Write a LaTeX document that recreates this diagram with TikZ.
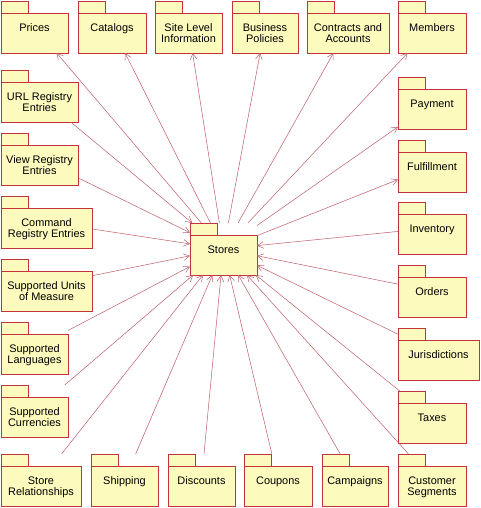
\documentclass[tikz,border=0pt]{standalone}
\usepackage{fontspec}
\setmainfont{Liberation Sans}
\usetikzlibrary{arrows.meta}
\definecolor{pkgfill}{RGB}{253,250,190}
\definecolor{pkgline}{RGB}{196,50,60}
\definecolor{connline}{RGB}{192,100,110}
\tikzset{
  pkgshape/.style={draw=pkgline, fill=pkgfill, line width=0.75pt},
  pkgnode/.style={anchor=north west, inner sep=0pt, outer sep=0pt, draw=none, rectangle,
    font=\fontsize{8.2pt}{8.8pt}\selectfont},
  conn/.style={draw=connline, line width=0.4pt, -{Straight Barb[length=4.5pt,width=5pt]}}
}
% #1 name, #2 x, #3 y (top of tab), #4 width, #5 text
\newcommand\pkgbox[5]{%
  \path[pkgshape] (#2,#3) rectangle ++(27,12);
  \path[pkgshape] (#2,#3+12) rectangle ++(#4,40);
  \node[pkgnode] (#1) at (#2,#3)
    {\parbox[b][39pt][t]{\dimexpr #4pt*3/4\relax}{\centering\rule{0pt}{22.5pt}#5}};
}
\begin{document}
\begin{tikzpicture}[x=0.75pt,y=-0.75pt]
\useasboundingbox (0,0) rectangle (480,508);
% top row
\pkgbox{prices}{1}{1}{67}{Prices}
\pkgbox{catalogs}{78}{1}{68}{Catalogs}
\pkgbox{site}{155}{1}{67}{Site Level\\Information}
\pkgbox{business}{232}{1}{66}{Business\\Policies}
\pkgbox{contracts}{307}{1}{82}{Contracts and\\Accounts}
\pkgbox{members}{398}{1}{68}{Members}
% left column
\pkgbox{url}{1}{70}{77}{URL Registry\\Entries}
\pkgbox{view}{1}{133}{77}{View Registry\\Entries}
\pkgbox{command}{1}{196}{91}{Command\\Registry Entries}
\pkgbox{units}{1}{259}{91}{Supported Units\\of Measure}
\pkgbox{languages}{1}{322}{67}{Supported\\Languages}
\pkgbox{currencies}{1}{385}{67}{Supported\\Currencies}
% bottom row
\pkgbox{storerel}{1}{454}{80}{Store\\Relationships}
\pkgbox{shipping}{91}{454}{67}{Shipping}
\pkgbox{discounts}{168}{454}{67}{Discounts}
\pkgbox{coupons}{244}{454}{68}{Coupons}
\pkgbox{campaigns}{322}{454}{66}{Campaigns}
\pkgbox{custseg}{398}{454}{68}{Customer\\Segments}
% right column
\pkgbox{payment}{398}{77}{68}{Payment}
\pkgbox{fulfillment}{398}{140}{68}{Fulfillment}
\pkgbox{inventory}{398}{202}{68}{Inventory}
\pkgbox{orders}{398}{265}{68}{Orders}
\pkgbox{jurisdictions}{398}{328}{81}{Jurisdictions}
\pkgbox{taxes}{398}{391}{68}{Taxes}
% center
\pkgbox{stores}{190}{223}{67}{Stores}
% outgoing
\foreach \t in {prices,catalogs,site,business,contracts,members,payment,fulfillment}
  \draw[conn] (stores) -- (\t);
% incoming
\foreach \s in {url,view,command,units,languages,currencies,storerel,shipping,discounts,coupons,campaigns,custseg,inventory,orders,jurisdictions,taxes}
  \draw[conn] (\s) -- (stores);
\end{tikzpicture}
\end{document}
